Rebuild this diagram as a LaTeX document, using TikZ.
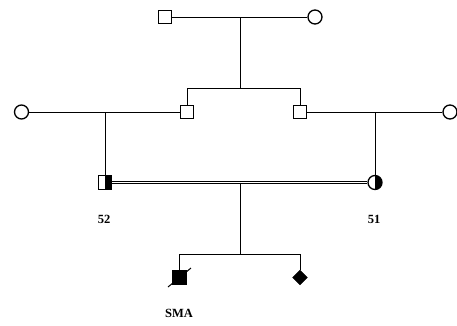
\documentclass[tikz,border=0pt]{standalone}
\usepackage{fontspec}
\setmainfont{Liberation Serif}
\usetikzlibrary{positioning,shapes.geometric,calc}

\begin{document}
\begin{tikzpicture}[x=1pt, y=-1pt,
line/.style={line width=1pt},
male/.style={rectangle, draw=black, line width=1.3pt, fill=white, minimum size=13.5pt, inner sep=0pt},
female/.style={circle, draw=black, line width=1.3pt, fill=white, minimum size=14pt, inner sep=0pt},
carrierm/.style={male, path picture={\fill[black] (path picture bounding box.north) rectangle (path picture bounding box.south east);}},
carrierf/.style={female, path picture={\fill[black] (path picture bounding box.north) rectangle (path picture bounding box.south east);}},
affected/.style={male, fill=black},
unknown/.style={diamond, draw=black, fill=black, minimum size=15pt, inner sep=0pt},
idlabel/.style={font=\bfseries\fontsize{12.5}{14}\selectfont}
]
\useasboundingbox (0,0) rectangle (457,325);
%Nodes
\node[male]      (gf)    at (165,17)     {};
\node[female]    (gm)    at (315,17)     {};
\node[female]    (w1)    at (21.5,112)   {};
\node[male]      (s1)    at (187,112)    {};
\node[male]      (s2)    at (300,112)    {};
\node[female]    (w2)    at (450,112)    {};
\node[carrierm]  (c52)   at (105,182.5)  {};
\node[carrierf]  (c51)   at (375,182.5)  {};
\node[affected]  (pa)    at (179.5,277.5) {};
\node[unknown]   (pb)    at (300,277.5)  {};
%Labels
\node[idlabel]   (l52)   at (104,219)    {52};
\node[idlabel]   (l51)   at (374,219)    {51};
\node[idlabel]   (lsma)  at (179,313)    {SMA};
%Coordinates
\coordinate (m0) at (240,17);
\coordinate (k0) at (240,88);
\coordinate (k1) at (187,88);
\coordinate (k2) at (300,88);
\coordinate (m1) at (105,112);
\coordinate (m2) at (375,112);
\coordinate (m3) at (240,182.5);
\coordinate (k3) at (240,254);
\coordinate (k4) at (179.5,254);
\coordinate (k5) at (300,254);
%Lines
\draw[line] (gf) -- (gm);
\draw[line] (m0) -- (k0);
\draw[line] (k1) -- (k2);
\draw[line] (k1) -- (s1);
\draw[line] (k2) -- (s2);
\draw[line] (w1) -- (s1);
\draw[line] (s2) -- (w2);
\draw[line] (m1) -- (c52);
\draw[line] (m2) -- (c51);
\draw[line width=0.8pt, double, double distance=1.8pt] (c52) -- (c51);
\draw[line] (m3) -- (k3);
\draw[line] (k4) -- (k5);
\draw[line] (k4) -- (pa);
\draw[line] (k5) -- (pb);
\draw[line] ($(pa)+(-11.5,9.5)$) -- ($(pa)+(11.5,-9.5)$);
\end{tikzpicture}
\end{document}
